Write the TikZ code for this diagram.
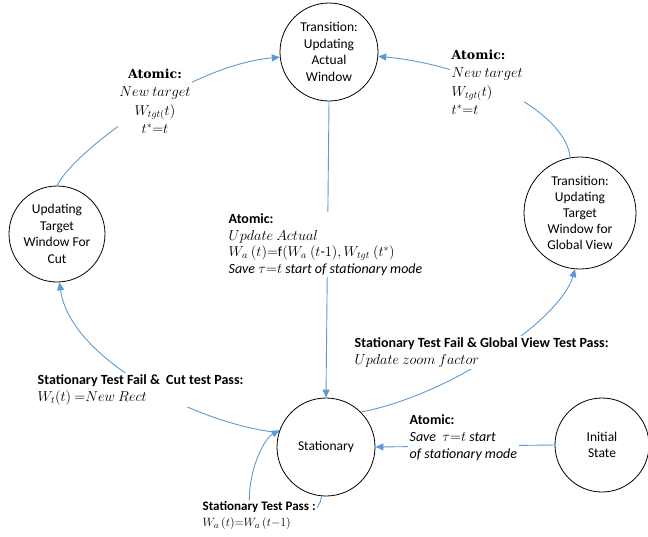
\documentclass[tikz,border=0pt]{standalone}
\usepackage{fontspec}
\setmainfont{Carlito}
\newfontfamily\slab{DejaVu Serif}
\usetikzlibrary{arrows.meta}
\definecolor{edgeblue}{HTML}{5B9BD5}
\begin{document}
\begin{tikzpicture}[x=1pt,y=-1pt,
  state/.style={circle,draw=black,line width=0.8pt,align=center,inner sep=0pt,
    font=\fontsize{13.5}{16.5}\selectfont},
  conn/.style={draw=edgeblue,line width=0.9pt},
  arr/.style={conn,-{Triangle[length=8pt,width=7pt]}},
  lab/.style={fill=white,align=left,inner sep=1.5pt,anchor=north west,
    font=\fontsize{14}{17}\selectfont},
  labc/.style={lab,align=center,anchor=north}
]
\useasboundingbox (0,0) rectangle (648,536);

% states
\node[state,minimum size=98pt] (top) at (329,52) {Transition:\\Updating\\Actual\\Window};
\node[state,minimum size=96pt] (left) at (57,234) {Updating\\Target\\Window For\\Cut};
\node[state,minimum size=112pt,font=\fontsize{13.5}{16}\selectfont] (right) at (580,213) {Transition:\\Updating\\Target\\Window for\\Global View};
\node[state,minimum size=98pt] (stat) at (326,447) {Stationary};
\node[state,minimum size=94pt] (init) at (602,445) {Initial\\State};

% connectors
\draw[arr] (stat.163) .. controls (200,425) and (70,360) .. (left.-87);
\draw[arr] (left.north) .. controls (75,150) and (190,65) .. (top.186);
\draw[arr] (right.100) .. controls (565,110) and (470,65) .. (top.-5);
\draw[arr] (top.south) -- (stat.north);
\draw[arr] (stat.45) .. controls (450,395) and (560,320) .. (right.-95);
\draw[arr] (init.west) -- (stat.east);
\draw[arr] (stat.-95) .. controls (318,526) and (262,530) .. (250,508)
  .. controls (246,478) and (262,440) .. (stat.160);

% labels
\node[labc,font=\fontsize{14}{18.5}\selectfont] (l1) at (155,67) {{\slab\bfseries\fontsize{12.5}{17}\selectfont Atomic:}\\ $New\ target$\\ $W_{tgt(}t)$\\ $t^{*}{=}t$};
\node[lab,font=\fontsize{14}{18.5}\selectfont] (l2) at (450,48) {{\slab\bfseries\fontsize{12.5}{17}\selectfont Atomic:}\\ $New\ target$\\ $W_{tgt(}t)$\\ $t^{*}{=}t$};
\node[lab,font=\fontsize{14}{16.5}\selectfont] (l3) at (227,212) {\textbf{Atomic:}\\ $Update\ Actual$\\ $W_a\ (t){=}$f$(W_a\ (t$-$1),W_{tgt}\ (t^*)$\\ \textit{Save} $\tau{=}t$ \textit{start of stationary mode}};
\node[lab] (l4) at (353,336) {\textbf{Stationary Test Fail \& Global View Test Pass:}\\ $Update\ zoom\ factor$};
\node[lab] (l5) at (36,373) {\textbf{Stationary Test Fail \&\ \ Cut test Pass:}\\ $W_t(t)\ {=}New\ Rect$};
\node[lab] (l6) at (408,413) {\textbf{Atomic:}\\ \textit{Save}\ \ $\tau{=}t$ \textit{start}\\ \textit{of stationary mode}};
\node[lab,font=\fontsize{13}{16}\selectfont] (l7) at (201,500) {\textbf{Stationary Test Pass :}\\ $W_a\,(t){=}W_a\,(t{-}1)$};
\end{tikzpicture}
\end{document}
